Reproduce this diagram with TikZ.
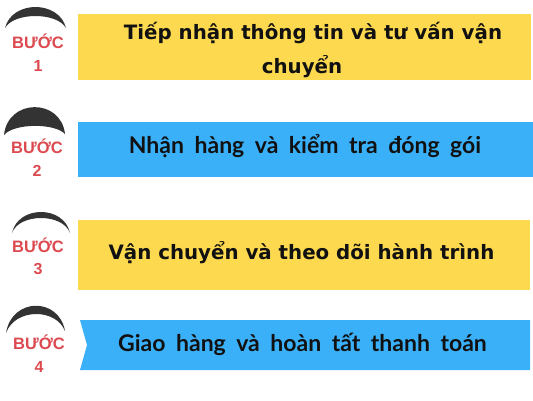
\documentclass[tikz,border=0pt]{standalone}
\usepackage{fontspec}
\setmainfont{Liberation Sans}
\newfontfamily\latofont{Lato}
\newfontfamily\arialfont{Liberation Sans}
\newfontfamily\dejafont{DejaVu Sans}
\newcommand\mywidespace{\spaceskip=10.5pt\relax}
\definecolor{boxyellow}{HTML}{FDD94F}
\definecolor{boxblue}{HTML}{3AB0F9}
\definecolor{stepred}{HTML}{DC4A50}
\definecolor{arcgray}{HTML}{333333}
\definecolor{textdark}{HTML}{111111}
\begin{document}
\begin{tikzpicture}[x=1pt,y=-1pt,
  stepword/.style={anchor=base,text=stepred,font=\arialfont\bfseries\fontsize{16.5}{19}\selectfont,inner sep=0pt},
  stepnum/.style={anchor=base,text=stepred,font=\arialfont\bfseries\fontsize{16}{19}\selectfont,inner sep=0pt},
  titleA/.style={anchor=base,text=textdark,font=\dejafont\bfseries\fontsize{19.8}{23}\selectfont,inner sep=0pt},
  titleB/.style={anchor=base,text=textdark,font=\latofont\bfseries\fontsize{23}{27}\selectfont\mywidespace,inner sep=0pt},
  crescent/.style={fill=arcgray,draw=none}]
\useasboundingbox (0,0) rectangle (533,400);
\fill[white] (0,0) rectangle (533,400);
% boxes
\fill[boxyellow] (78,14) rectangle (531,80);
\fill[boxblue] (78,122) rectangle (533,177);
\fill[boxyellow] (78,220) rectangle (530,290);
\fill[boxblue] (80,320) -- (530,320) -- (530,370) -- (80,370) -- (87,345) -- cycle;
% crescents
\fill[crescent] (5,28) .. controls (12,0) and (59,0) .. (66,28) .. controls (57,12) and (14,12) .. (5,28) -- cycle;
\fill[crescent] (4,135) .. controls (8,98) and (61,98) .. (65,134) .. controls (55,123) and (14,123) .. (4,135) -- cycle;
\fill[crescent] (12,233) .. controls (18,205) and (64,205) .. (70,233) .. controls (63,213) and (19,213) .. (12,233) -- cycle;
\fill[crescent] (6,333) .. controls (12,297) and (59,297) .. (65,331) .. controls (56,308) and (15,308) .. (6,333) -- cycle;
% step labels
\node[stepword] (w1) at (38,48) {BƯỚC};
\node[stepnum] (n1) at (38,71) {1};
\node[stepword] (w2) at (37,153) {BƯỚC};
\node[stepnum] (n2) at (37,176) {2};
\node[stepword] (w3) at (38,252) {BƯỚC};
\node[stepnum] (n3) at (38,274) {3};
\node[stepword] (w4) at (39,349) {BƯỚC};
\node[stepnum] (n4) at (39,372) {4};
% titles
\node[titleA] (t1a) at (313,39) {Tiếp nhận thông tin và tư vấn vận};
\node[titleA] (t1b) at (302,73) {chuyển};
\node[titleB] (t2) at (305,153) {Nhận hàng và kiểm tra đóng gói};
\node[titleA] (t3) at (301.5,259) {Vận chuyển và theo dõi hành trình};
\node[titleB] (t4) at (302.5,351) {Giao hàng và hoàn tất thanh toán};
\end{tikzpicture}
\end{document}
